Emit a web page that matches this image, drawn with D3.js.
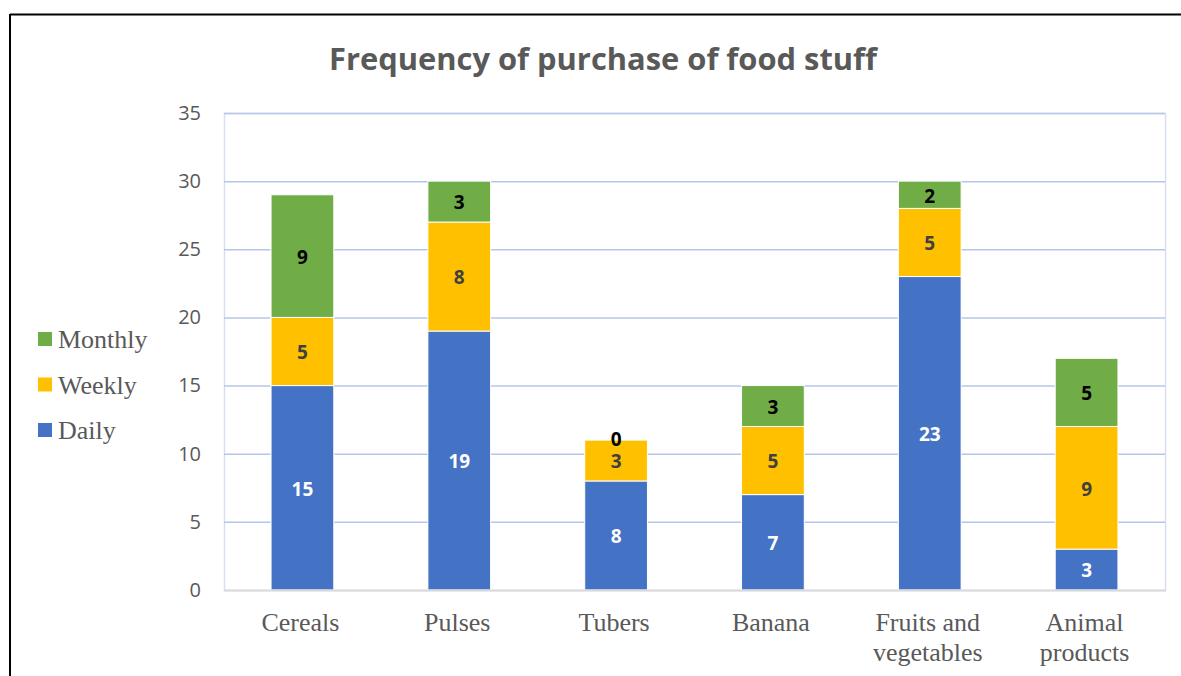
<!DOCTYPE html>
<html>
<head>
<meta charset="utf-8">
<script src="https://cdn.jsdelivr.net/npm/d3@7"></script>
<style>
  html, body { margin: 0; padding: 0; background: #fff; }
  svg { display: block; }
</style>
</head>
<body>
<svg id="chart" width="1181" height="676"></svg>
<script>
const categories = [["Cereals"], ["Pulses"], ["Tubers"], ["Banana"], ["Fruits and", "vegetables"], ["Animal", "products"]];
const seriesNames = ["Daily", "Weekly", "Monthly"];
const daily   = [15, 19, 8, 7, 23, 3];
const weekly  = [5, 8, 3, 5, 5, 9];
const monthly = [9, 3, 0, 3, 2, 5];
const yTicks = [0, 5, 10, 15, 20, 25, 30, 35];
const title = "Frequency of purchase of food stuff";

const colors = { Daily: "#4472C4", Weekly: "#FFC000", Monthly: "#70AD47" };
const labelColors = { Daily: "#FFFFFF", Weekly: "#404040", Monthly: "#000000" };

const svg = d3.select("#chart");
const W = 1181, H = 676;
const plot = { left: 224, right: 1165, top: 113, bottom: 590 };

// outer frame (top and left visible)
svg.append("line").attr("x1", 10).attr("x2", W).attr("y1", 14.5).attr("y2", 14.5)
  .attr("stroke", "#000").attr("stroke-width", 2);
svg.append("line").attr("x1", 10).attr("x2", 10).attr("y1", 14).attr("y2", H)
  .attr("stroke", "#000").attr("stroke-width", 2);

// title
svg.append("text").attr("x", 603).attr("y", 70).attr("text-anchor", "middle")
  .attr("font-family", "'Open Sans', sans-serif").attr("font-weight", "bold")
  .attr("font-size", 31).attr("fill", "#595959")
  .attr("textLength", 548).attr("lengthAdjust", "spacingAndGlyphs")
  .text(title);

const keys = categories.map(c => c.join(" "));
const x = d3.scaleBand().domain(keys).range([plot.left, plot.right]).paddingInner(0.6).paddingOuter(0.3);
const y = d3.scaleLinear().domain([0, 35]).range([plot.bottom, plot.top]);

// plot area border
svg.append("rect").attr("x", plot.left + 0.5).attr("y", plot.top + 0.5)
  .attr("width", plot.right - plot.left).attr("height", plot.bottom - plot.top)
  .attr("fill", "none").attr("stroke", "#D6E0F2").attr("stroke-width", 1.5);

// gridlines
const grid = svg.append("g").attr("transform", `translate(${plot.left},0)`)
  .call(d3.axisLeft(y).tickValues(yTicks.filter(t => t > 0)).tickSize(-(plot.right - plot.left)).tickFormat(""));
grid.select(".domain").remove();
grid.selectAll("line").attr("stroke", "#B4C7E7").attr("stroke-width", 1.5);

// y tick labels
const yAxis = svg.append("g").attr("transform", `translate(${plot.left},0)`)
  .call(d3.axisLeft(y).tickValues(yTicks).tickSize(0).tickPadding(23));
yAxis.select(".domain").remove();
yAxis.selectAll("text").attr("font-family", "'Open Sans', sans-serif").attr("font-size", 20).attr("fill", "#595959");

// stacked data
const table = keys.map((k, i) => ({ key: k, Daily: daily[i], Weekly: weekly[i], Monthly: monthly[i] }));
const stack = d3.stack().keys(seriesNames)(table);

const layers = svg.append("g").selectAll("g").data(stack).join("g")
  .attr("fill", d => colors[d.key]);
layers.selectAll("rect").data(d => d).join("rect")
  .attr("x", d => x(d.data.key))
  .attr("width", x.bandwidth())
  .attr("y", d => y(d[1]))
  .attr("height", d => y(d[0]) - y(d[1]))
  .attr("stroke", "#fff").attr("stroke-width", 1);

// x axis baseline
svg.append("line").attr("x1", plot.left).attr("x2", plot.right + 1).attr("y1", plot.bottom + 0.5).attr("y2", plot.bottom + 0.5)
  .attr("stroke", "#D9D9D9").attr("stroke-width", 2);

// data labels
stack.forEach(layer => {
  svg.append("g").selectAll("text").data(layer).join("text")
    .attr("x", d => x(d.data.key) + x.bandwidth() / 2)
    .attr("y", d => (y(d[0]) + y(d[1])) / 2 + (d[1] - d[0] === 0 ? -1 : 1))
    .attr("dy", "0.36em")
    .attr("text-anchor", "middle")
    .attr("font-family", "'Open Sans', sans-serif").attr("font-weight", "bold").attr("font-size", 19)
    .attr("fill", labelColors[layer.key])
    .text(d => d.data[layer.key]);
});

// x category labels
const xl = svg.append("g").selectAll("text").data(categories).join("text")
  .attr("x", (d, i) => x(keys[i]) + x.bandwidth() / 2 - 2)
  .attr("y", 631)
  .attr("text-anchor", "middle")
  .attr("font-family", "'Liberation Serif', 'Times New Roman', serif").attr("font-size", 26)
  .attr("fill", "#595959");
xl.each(function(d) {
  const t = d3.select(this);
  d.forEach((line, j) => t.append("tspan").attr("x", t.attr("x")).attr("dy", j === 0 ? 0 : 30).text(line));
});

// legend
const legendOrder = ["Monthly", "Weekly", "Daily"];
const lg = svg.append("g").selectAll("g").data(legendOrder).join("g")
  .attr("transform", (d, i) => `translate(38, ${332 + i * 45.5})`);
lg.append("rect").attr("width", 14).attr("height", 14).attr("fill", d => colors[d]);
lg.append("text").attr("x", 20).attr("y", 16)
  .attr("font-family", "'Liberation Serif', 'Times New Roman', serif").attr("font-size", 26)
  .attr("fill", "#595959").text(d => d);
</script>
</body>
</html>
